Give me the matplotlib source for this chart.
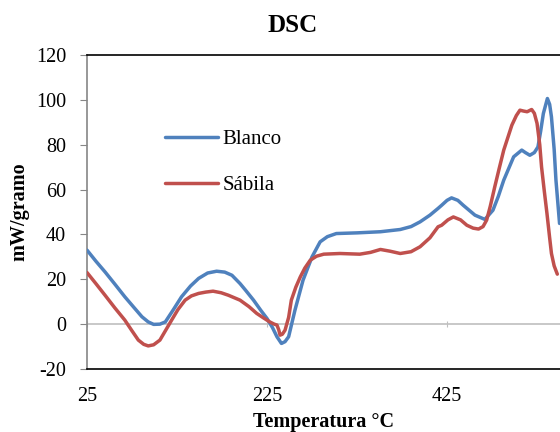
import matplotlib
matplotlib.use("Agg")
import matplotlib.pyplot as plt

# Blanco curve (temperature in °C, mW/gramo)
t_blanco = [25, 35, 45, 56, 67, 77, 86, 93, 99, 106, 112, 121, 130, 140, 149,
            159, 169, 178, 186, 195, 201, 210, 218, 225, 231, 236, 241, 245, 249,
            256, 265, 275, 284, 292, 302, 325, 351, 373, 385, 395, 406, 415, 419,
            425, 430, 437, 443, 456, 467, 476, 482, 488, 499, 508, 512, 517, 522,
            526, 529, 532, 536.5, 539, 541, 544, 546, 550]
y_blanco = [33, 28, 23.3, 17.8, 12.2, 7.5, 3.3, 1, -0.1, 0, 1, 6.5, 12.2, 17, 20.4,
            22.8, 23.6, 23.2, 21.8, 18.1, 15.2, 10.7, 6.2, 2.5, -1.5, -5.6, -8.6, -7.8, -5.6,
            6.2, 19.6, 30, 36.7, 39, 40.4, 40.7, 41.2, 42.2, 43.5, 45.6, 48.6, 51.6, 53,
            55.2, 56.3, 55.2, 53, 48.6, 46.7, 50.8, 57, 64.2, 74.6, 77.6, 76.5, 75.3, 76.5,
            79, 86, 93.9, 100.6, 98, 92.4, 78, 64.2, 44.9]

# Sábila curve
t_sabila = [25, 35, 45, 56, 67, 75, 82, 88, 93, 99, 106, 112, 119, 126, 134,
            141, 149, 157, 165, 174, 182, 195, 205, 213.5, 221, 228, 233, 236, 238,
            239.5, 242, 245, 249, 252, 257, 262, 267, 273, 280, 288, 306, 328, 340,
            351, 362, 373, 385, 395, 406, 415, 419, 426, 432, 440, 447, 454, 460,
            465, 469, 473, 478, 483, 488, 497, 502, 506, 510, 514, 519, 522, 525,
            528, 530, 533, 536, 539, 541, 544, 547.5]
y_sabila = [23, 18, 12.9, 7.2, 1.8, -3, -7.1, -9, -9.7, -9.2, -7.1, -3, 1.8, 6.5, 10.7,
            12.6, 13.7, 14.3, 14.7, 14, 12.9, 10.7, 7.8, 4.8, 2.8, 1, 0, -0.4, -2.5,
            -4.9, -4.5, -2.7, 3, 10.7, 16.5, 21.1, 25, 28.5, 30.3, 31.2, 31.5, 31.2, 32,
            33.3, 32.5, 31.5, 32.3, 34.5, 38.5, 43.4, 44.1, 46.5, 47.8, 46.5, 44.1, 42.8, 42.4,
            43.5, 46.4, 52.5, 61.2, 69.5, 77.6, 88.7, 93, 95.4, 95, 94.7, 95.7, 94, 89.5,
            80, 70.1, 59.5, 49.4, 38.5, 31.5, 26, 22.3]

x_ticks = [25, 225, 425]
y_ticks = [-20, 0, 20, 40, 60, 80, 100, 120]

plt.rcParams['font.family'] = ['Liberation Serif', 'DejaVu Serif']
plt.rcParams['axes.unicode_minus'] = False

fig = plt.figure(figsize=(5.6, 4.32), dpi=100)
ax = fig.add_axes([0.1554, 0.1458, 0.8446, 0.7269])

ax.axhline(0, color='#BFBFBF', lw=1.2, zorder=1)
ax.plot(t_blanco, y_blanco, color='#4F81BD', lw=2.5, label='Blanco', zorder=3,
        solid_joinstyle='round', solid_capstyle='round')
ax.plot(t_sabila, y_sabila, color='#C0504D', lw=2.5, label='Sábila', zorder=3,
        solid_joinstyle='round', solid_capstyle='round')

ax.set_xlim(25, 550.5)
ax.set_ylim(-20, 120)
ax.set_yticks(y_ticks)
ax.set_xticks(x_ticks)

for s in ['top', 'bottom']:
    ax.spines[s].set_color('black')
    ax.spines[s].set_linewidth(1.2)
ax.spines['left'].set_color('#868686')
ax.spines['left'].set_linewidth(1.2)
ax.spines['right'].set_visible(False)

ax.tick_params(axis='y', length=5, color='#868686', labelsize=14.5, pad=10)
ax.tick_params(axis='x', length=0, labelsize=14.5, pad=13)

# small tick marks on the zero line
sec = ax.secondary_xaxis(20 / 140)
sec.set_xticks(x_ticks)
sec.set_xticklabels([])
sec.tick_params(length=5, color='#BFBFBF', direction='inout')
sec.spines['bottom'].set_visible(False)
sec.spines['top'].set_visible(False)

ax.set_xlabel('Temperatura °C', fontsize=14.5, fontweight='bold', labelpad=4)
ax.set_ylabel('mW/gramo', fontsize=14.5, fontweight='bold', labelpad=5)
fig.text(0.523, 0.942, 'DSC', ha='center', va='center', fontsize=18, fontweight='bold')

ax.legend(loc='upper left', bbox_to_anchor=(0.1253, 0.823), frameon=False,
          fontsize=15, handlelength=2.55, labelspacing=1.29, handletextpad=0.2)

fig.savefig('out.png', dpi=100)
